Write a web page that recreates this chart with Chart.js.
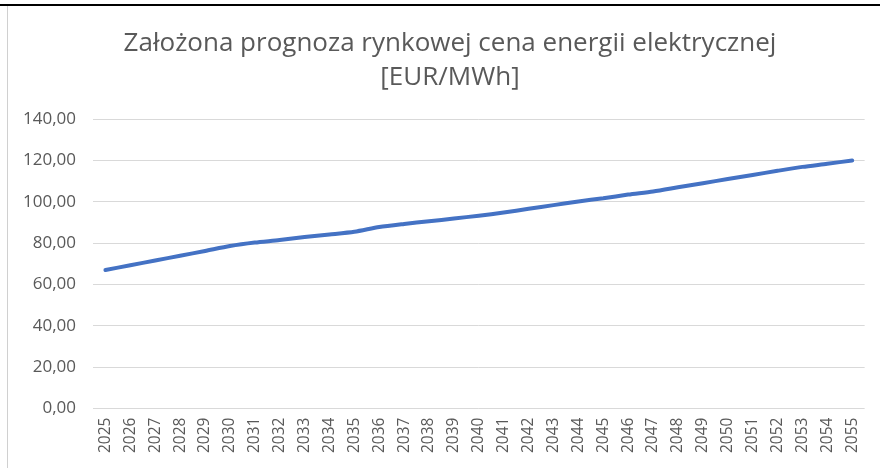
<!DOCTYPE html>
<html>
<head>
<meta charset="utf-8">
<script src="https://cdn.jsdelivr.net/npm/chart.js@4"></script>
<style>
  html, body { margin: 0; padding: 0; background: #fff; }
  #wrap { position: relative; width: 880px; height: 468px; overflow: hidden; }
  #wrap:before { content: ""; position: absolute; left: 0; top: 4px; width: 880px; height: 2px; background: #000; }
  #wrap:after { content: ""; position: absolute; left: 7px; top: 6px; width: 1px; height: 462px; background: #d0d0d0; }
  #priceChart { position: absolute; left: 0; top: 0; }
</style>
</head>
<body>
<div id="wrap"><canvas id="priceChart" width="880" height="468"></canvas></div>
<script>
// data
const years = ["2025","2026","2027","2028","2029","2030","2031","2032","2033","2034","2035",
  "2036","2037","2038","2039","2040","2041","2042","2043","2044","2045",
  "2046","2047","2048","2049","2050","2051","2052","2053","2054","2055"];
const prices = [67.0, 69.3, 71.6, 73.9, 76.2, 78.6, 80.3, 81.5, 83.0, 84.2, 85.5,
  87.8, 89.3, 90.6, 91.9, 93.3, 94.8, 96.6, 98.4, 100.2, 101.7,
  103.5, 105.0, 107.0, 109.0, 111.0, 113.0, 115.0, 116.9, 118.4, 120.0];
const titleLines = ["Założona prognoza rynkowej cena energii elektrycznej", "[EUR/MWh]"];

const FONT = "'Open Sans', Lato, sans-serif";
const GREY = "#595959";

new Chart(document.getElementById("priceChart"), {
  type: "line",
  data: {
    labels: years,
    datasets: [{
      data: prices,
      borderColor: "#4472C4",
      borderWidth: 4,
      borderCapStyle: "round",
      borderJoinStyle: "round",
      tension: 0.25,
      pointRadius: 0
    }]
  },
  options: {
    responsive: false,
    animation: false,
    layout: { padding: { left: 20, right: 0, top: 0, bottom: 6 } },
    plugins: {
      legend: { display: false },
      tooltip: { enabled: false },
      title: {
        display: true,
        text: titleLines,
        color: GREY,
        font: { family: FONT, size: 26, weight: "normal", lineHeight: 1.31 },
        padding: { top: 27, bottom: 24 }
      }
    },
    scales: {
      x: {
        offset: true,
        grid: { display: false, drawTicks: false },
        border: { display: false },
        ticks: {
          color: GREY,
          font: { family: FONT, size: 15.5 },
          minRotation: 90,
          maxRotation: 90,
          autoSkip: false,
          padding: 9
        }
      },
      y: {
        min: 0,
        max: 140,
        grid: { color: "#d9d9d9", lineWidth: 1, drawTicks: false },
        border: { display: false },
        ticks: {
          stepSize: 20,
          color: GREY,
          font: { family: FONT, size: 17 },
          padding: 17,
          callback: v => v.toFixed(2).replace(".", ",")
        },
        afterFit: s => { s.width = 73; }
      },
      // empty right-hand strip so the title centres like the reference
      spacer: {
        position: "right",
        min: 0,
        max: 1,
        grid: { display: false, drawTicks: false },
        border: { display: false },
        ticks: { display: false },
        afterFit: s => { s.width = 12; }
      }
    }
  }
});
</script>
</body>
</html>
